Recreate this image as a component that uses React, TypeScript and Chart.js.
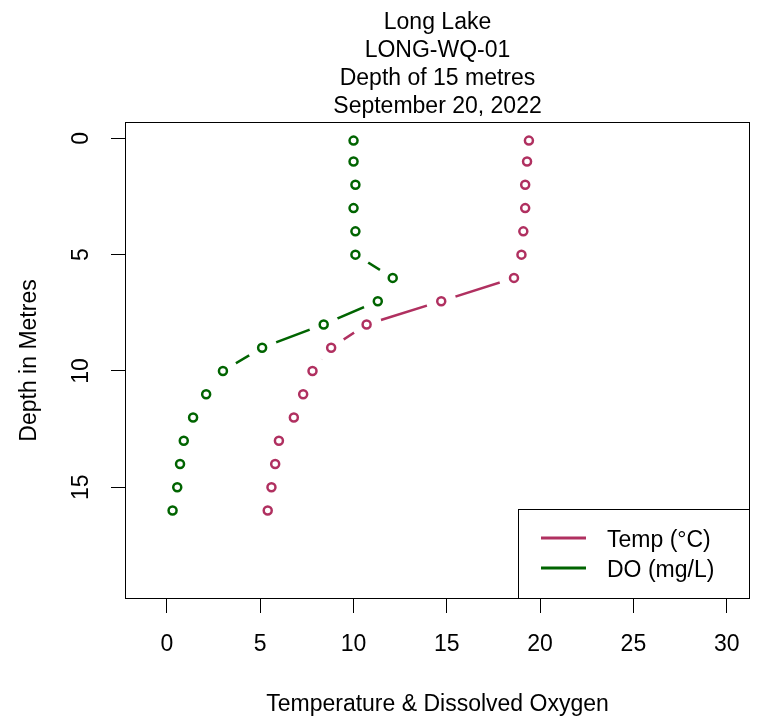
import React, { useEffect, useRef } from 'react';
import { Chart, registerables } from 'chart.js';

Chart.register(...registerables);

// ---- data ----
const depths = [0.1, 1, 2, 3, 4, 5, 6, 7, 8, 9, 10, 11, 12, 13, 14, 15, 16];
const tempValues = [19.4, 19.3, 19.2, 19.2, 19.1, 19.0, 18.6, 14.7, 10.7, 8.8, 7.8, 7.3, 6.8, 6.0, 5.8, 5.6, 5.4];
const doValues = [10.0, 10.0, 10.1, 10.0, 10.1, 10.1, 12.1, 11.3, 8.4, 5.1, 3.0, 2.1, 1.4, 0.9, 0.7, 0.55, 0.3];
const xTickValues = [0, 5, 10, 15, 20, 25, 30];
const yTickValues = [0, 5, 10, 15];
const titleLines = ['Long Lake', 'LONG-WQ-01', 'Depth of 15 metres', 'September 20, 2022'];
const seriesLabels = ['Temp (°C)', 'DO (mg/L)'];
const xAxisTitle = 'Temperature & Dissolved Oxygen';
const yAxisTitle = 'Depth in Metres';

const TEMP_COLOR = '#B03060';
const DO_COLOR = '#006400';
const FONT = "'Liberation Sans', Arial, sans-serif";
const FS = 23;

const toPoints = (vals: number[]) => vals.map((v, i) => ({ x: v, y: depths[i] }));

const decorPlugin = {
  id: 'decor',
  afterDraw(chart: any) {
    const { ctx, chartArea: a, scales } = chart;
    ctx.save();
    // frame
    ctx.strokeStyle = '#000';
    ctx.lineWidth = 1;
    ctx.strokeRect(a.left + 0.5, a.top + 0.5, a.right - a.left - 1, a.bottom - a.top - 1);

    // title (centred on the plot area)
    ctx.fillStyle = '#000';
    ctx.font = `${FS}px ${FONT}`;
    ctx.textAlign = 'center';
    ctx.textBaseline = 'alphabetic';
    const cx = (a.left + a.right) / 2;
    titleLines.forEach((t, i) => ctx.fillText(t, cx, 28.5 + i * 28.3));

    // rotated y tick labels
    const ys = scales.y;
    yTickValues.forEach((v) => {
      const py = ys.getPixelForValue(v);
      ctx.save();
      ctx.translate(82, py);
      ctx.rotate(-Math.PI / 2);
      ctx.textAlign = 'center';
      ctx.textBaseline = 'middle';
      ctx.fillText(String(v), 0, 0);
      ctx.restore();
    });

    // legend box in bottom-right corner
    const w = 232, h = 90;
    const lx = a.right - w, ly = a.bottom - h;
    ctx.fillStyle = '#fff';
    ctx.fillRect(lx, ly, w, h);
    ctx.strokeStyle = '#000';
    ctx.lineWidth = 1;
    ctx.strokeRect(lx + 0.5, ly + 0.5, w - 1, h - 1);
    const colors = [TEMP_COLOR, DO_COLOR];
    seriesLabels.forEach((lab, i) => {
      const yy = ly + 29 + i * 30;
      ctx.strokeStyle = colors[i];
      ctx.lineWidth = 3;
      ctx.beginPath();
      ctx.moveTo(lx + 23, yy);
      ctx.lineTo(lx + 68, yy);
      ctx.stroke();
      ctx.fillStyle = '#000';
      ctx.textAlign = 'left';
      ctx.textBaseline = 'middle';
      ctx.fillText(lab, lx + 89, yy + 3);
    });
    ctx.restore();
  },
};

export default function App() {
  const ref = useRef<HTMLCanvasElement | null>(null);

  useEffect(() => {
    if (!ref.current) return;
    Chart.defaults.color = '#000';
    Chart.defaults.font.family = FONT;
    const tempPts = toPoints(tempValues);
    const doPts = toPoints(doValues);
    const lineDs = (label: string, pts: any[], color: string) => ({
      label,
      data: pts,
      borderColor: color,
      borderWidth: 2.5,
      pointRadius: 0,
      pointHoverRadius: 0,
      showLine: true,
      fill: false,
      tension: 0,
      order: 3,
    });
    const haloDs = (label: string, pts: any[]) => ({
      label: label + ' gap',
      data: pts,
      showLine: false,
      pointRadius: 15,
      pointHoverRadius: 15,
      pointBackgroundColor: '#fff',
      pointBorderWidth: 0,
      pointBorderColor: '#fff',
      order: 2,
    });
    const markDs = (label: string, pts: any[], color: string) => ({
      label: label + ' points',
      data: pts,
      showLine: false,
      pointRadius: 4,
      pointHoverRadius: 4,
      pointBackgroundColor: 'rgba(0,0,0,0)',
      pointBorderColor: color,
      pointBorderWidth: 2.5,
      order: 1,
    });

    const chart = new Chart(ref.current, {
      type: 'line',
      data: {
        datasets: [
          lineDs(seriesLabels[0], tempPts, TEMP_COLOR),
          lineDs(seriesLabels[1], doPts, DO_COLOR),
          haloDs(seriesLabels[0], tempPts),
          haloDs(seriesLabels[1], doPts),
          markDs(seriesLabels[0], tempPts, TEMP_COLOR),
          markDs(seriesLabels[1], doPts, DO_COLOR),
        ] as any,
      },
      options: {
        animation: false,
        responsive: false,
        devicePixelRatio: 1,
        layout: { autoPadding: false, padding: { left: 0, right: 8, top: 122, bottom: 0 } },
        plugins: {
          legend: { display: false },
          tooltip: { enabled: false },
          title: { display: false },
        },
        events: [],
        scales: {
          x: {
            type: 'linear',
            min: -2.25,
            max: 31.25,
            afterBuildTicks: (s: any) => {
              s.ticks = xTickValues.map((v) => ({ value: v }));
            },
            afterFit: (s: any) => {
              s.height = 120;
              s.paddingLeft = 0;
              s.paddingRight = 0;
            },
            grid: {
              display: true,
              drawOnChartArea: false,
              drawTicks: true,
              tickLength: 14,
              color: '#000',
              lineWidth: 1,
            },
            border: { display: false },
            ticks: {
              color: '#000',
              font: { size: FS, family: FONT },
              padding: 18,
              maxRotation: 0,
              autoSkip: false,
            },
            title: {
              display: true,
              text: xAxisTitle,
              color: '#000',
              font: { size: FS, family: FONT },
              padding: { top: 0, bottom: 1 },
            },
          },
          y: {
            type: 'linear',
            reverse: true,
            min: -0.7,
            max: 19.8,
            afterBuildTicks: (s: any) => {
              s.ticks = yTickValues.map((v) => ({ value: v }));
            },
            afterFit: (s: any) => {
              s.width = 125;
              s.paddingTop = 0;
              s.paddingBottom = 0;
            },
            grid: {
              display: true,
              drawOnChartArea: false,
              drawTicks: true,
              tickLength: 14,
              color: '#000',
              lineWidth: 1,
            },
            border: { display: false },
            ticks: { display: false },
            title: {
              display: true,
              text: yAxisTitle,
              color: '#000',
              font: { size: FS, family: FONT },
              padding: { top: 16, bottom: 0 },
            },
          },
        },
      } as any,
      plugins: [decorPlugin],
    });
    return () => chart.destroy();
  }, []);

  return (
    <div style={{ position: 'absolute', left: 0, top: 0, width: 758, height: 719, background: '#fff' }}>
      <canvas ref={ref} width={758} height={719} style={{ width: 758, height: 719, display: 'block' }} />
    </div>
  );
}
